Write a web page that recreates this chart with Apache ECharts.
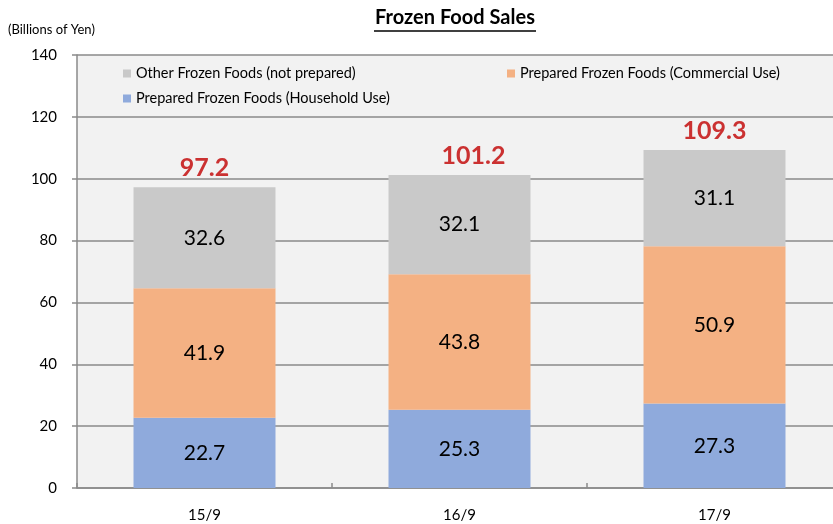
<!DOCTYPE html>
<html>
<head>
<meta charset="utf-8">
<script src="https://cdn.jsdelivr.net/npm/echarts@6/dist/echarts.min.js"></script>
<style>
  html, body { margin: 0; padding: 0; background: #fff; overflow: hidden; }
  /* plot area runs past the right edge in the source, so the canvas is a bit wider than the window */
  #chart { width: 842px; height: 524px; }
</style>
</head>
<body>
<div id="chart"></div>
<script>
/* Frozen food sales, billions of yen */
let periods = ["15/9", "16/9", "17/9"];
let household = [22.7, 25.3, 27.3];
let commercial = [41.9, 43.8, 50.9];
let other = [32.6, 32.1, 31.1];
let totals = [97.2, 101.2, 109.3];

let FONT = "Lato, 'Open Sans', sans-serif";

let chart = echarts.init(document.getElementById("chart"), null, { renderer: "canvas" });

function legendAt(name, left, top) {
  return {
    data: [name],
    left: left,
    top: top,
    padding: 0,
    icon: "rect",
    itemWidth: 8,
    itemHeight: 8,
    itemGap: 4,
    selectedMode: false,
    textStyle: { color: "#000", fontFamily: FONT, fontSize: 14.5 },
  };
}

let segLabel = {
  show: true,
  position: "inside",
  color: "#000",
  fontFamily: FONT,
  fontSize: 21,
  formatter: (p) => p.value.toFixed(1),
};

let option = {
  animation: false,
  backgroundColor: "#fff",
  title: {
    text: "Frozen Food Sales",
    left: 455,
    textAlign: "center",
    top: 8,
    padding: 0,
    textStyle: { color: "#000", fontFamily: FONT, fontSize: 20, fontWeight: "bold" },
  },
  graphic: [
    {
      type: "line",
      shape: { x1: 374, y1: 31, x2: 536, y2: 31 },
      style: { stroke: "#000", lineWidth: 1.5 },
    },
    {
      type: "text",
      left: 8,
      top: 23,
      style: { text: "(Billions of Yen)", fill: "#000", font: "13px " + FONT },
    },
  ],
  legend: [
    legendAt("Other Frozen Foods (not prepared)", 123, 66),
    legendAt("Prepared Frozen Foods (Commercial Use)", 507, 66),
    legendAt("Prepared Frozen Foods (Household Use)", 123, 91),
  ],
  grid: {
    left: 77,
    top: 55,
    right: 0,
    bottom: 36,
    show: true,
    backgroundColor: "#f2f2f2",
    borderWidth: 0,
  },
  xAxis: {
    type: "category",
    data: periods,
    axisLine: { lineStyle: { color: "#8a8a8a", width: 1.5 } },
    axisTick: { show: true, inside: true, length: 5, lineStyle: { color: "#8a8a8a", width: 1.5 } },
    axisLabel: { color: "#000", fontFamily: FONT, fontSize: 15, margin: 20 },
  },
  yAxis: {
    type: "value",
    min: 0,
    max: 140,
    interval: 20,
    axisLine: { show: true, lineStyle: { color: "#8a8a8a", width: 1.5 } },
    axisTick: { show: true, length: 5, lineStyle: { color: "#8a8a8a", width: 1.5 } },
    axisLabel: { color: "#000", fontFamily: FONT, fontSize: 15, margin: 20 },
    splitLine: { lineStyle: { color: "#8a8a8a", width: 1.5 } },
  },
  series: [
    {
      name: "Prepared Frozen Foods (Household Use)",
      type: "bar",
      stack: "total",
      barWidth: 142,
      data: household,
      itemStyle: { color: "#8faadc" },
      label: segLabel,
    },
    {
      name: "Prepared Frozen Foods (Commercial Use)",
      type: "bar",
      stack: "total",
      data: commercial,
      itemStyle: { color: "#f4b183" },
      label: segLabel,
    },
    {
      name: "Other Frozen Foods (not prepared)",
      type: "bar",
      stack: "total",
      data: other,
      itemStyle: { color: "#c9c9c9" },
      label: segLabel,
    },
    {
      name: "Total",
      type: "scatter",
      // the middle total sits a little right of its bar in the source
      data: totals.map((v, i) => (i === 1 ? { value: v, label: { offset: [14, 0] } } : v)),
      symbolSize: 1,
      itemStyle: { color: "transparent" },
      silent: true,
      label: {
        show: true,
        position: "top",
        distance: 6,
        color: "#c00000",
        fontFamily: FONT,
        fontSize: 25,
        fontWeight: "bold",
        formatter: (p) => p.value.toFixed(1),
      },
    },
  ],
};

chart.setOption(option);
</script>
</body>
</html>
